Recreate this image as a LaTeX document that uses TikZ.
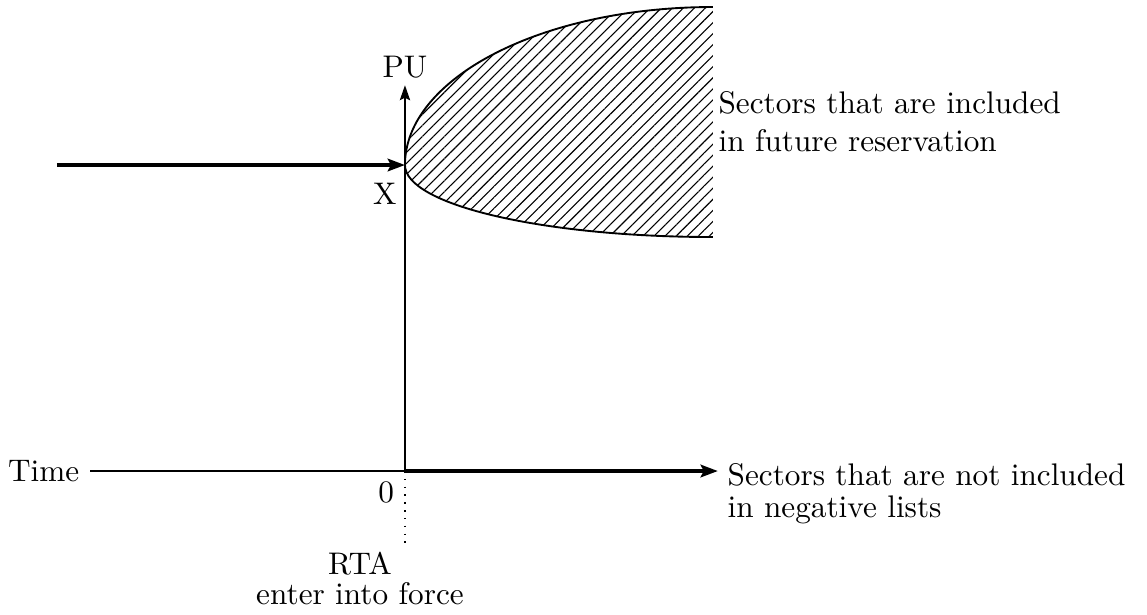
\documentclass[tikz,border=0pt]{standalone}
\usepackage{tikz}
\usetikzlibrary{arrows.meta, positioning, patterns.meta}
\tikzset{
  axis/.style={line width=0.5pt, color=black},
  thickarrow/.style={-{Stealth[length=5.5pt, width=4pt, inset=1pt]}, line width=1.5pt},
  tag/.style={font=\fontsize{10}{9.6}\selectfont, align=left},
  region/.style={pattern={Lines[angle=45, distance=2.5pt, line width=0.35pt]}}
}

\begin{document}
\begin{tikzpicture}
  \useasboundingbox (-4.556,-1.609) rectangle (8.348,5.299);

  % Key points
  \coordinate (origin) at (0,0);
  \coordinate (ytip) at (0,4.34);
  \coordinate (vertex) at (0,3.4425);
  \coordinate (tend) at (3.52,0);
  \coordinate (dotend) at (0,-0.833);
  \coordinate (xstart) at (-3.915,3.4425);

  % Hatched region of future reservation
  \fill[region] (3.465,5.22) arc[start angle=90, end angle=180, x radius=3.465, y radius=1.7775]
    arc[start angle=180, end angle=270, x radius=3.465, y radius=0.81] -- cycle;
  \draw[line width=0.6pt] (3.465,5.22) arc[start angle=90, end angle=180, x radius=3.465, y radius=1.7775]
    arc[start angle=180, end angle=270, x radius=3.465, y radius=0.81];

  % Labels
  \node[tag, anchor=east] (time) at (-3.54,0) {Time};
  \node[tag, above=-0.05cm of ytip] (pu) {PU};
  \node[tag, below left=0pt of origin] (zero) {0};
  \node[tag, anchor=north east] (xlab) at (0.03,3.36) {X};
  \node[tag, align=center, anchor=north] (rta) at (-0.506,-0.79) {RTA\\enter into force};
  \node[tag, font=\fontsize{10}{10.2}\selectfont, anchor=north west] (notincl) at (3.506,0.204) {Sectors that are not included\\in negative lists};
  \node[tag, font=\fontsize{10}{12}\selectfont, anchor=north west] (incl) at (3.404,4.392) {Sectors that are included\\in future reservation};

  % Axes and arrows
  \draw[axis] (time) -- (origin);
  \draw[axis, -{Stealth[length=4.8pt, width=3.3pt, inset=0.8pt]}] (origin) -- (ytip);
  \draw[axis, dotted] (origin) -- (dotend);
  \draw[thickarrow] (origin) -- (tend);
  \draw[thickarrow] (xstart) -- (vertex);
\end{tikzpicture}
\end{document}
